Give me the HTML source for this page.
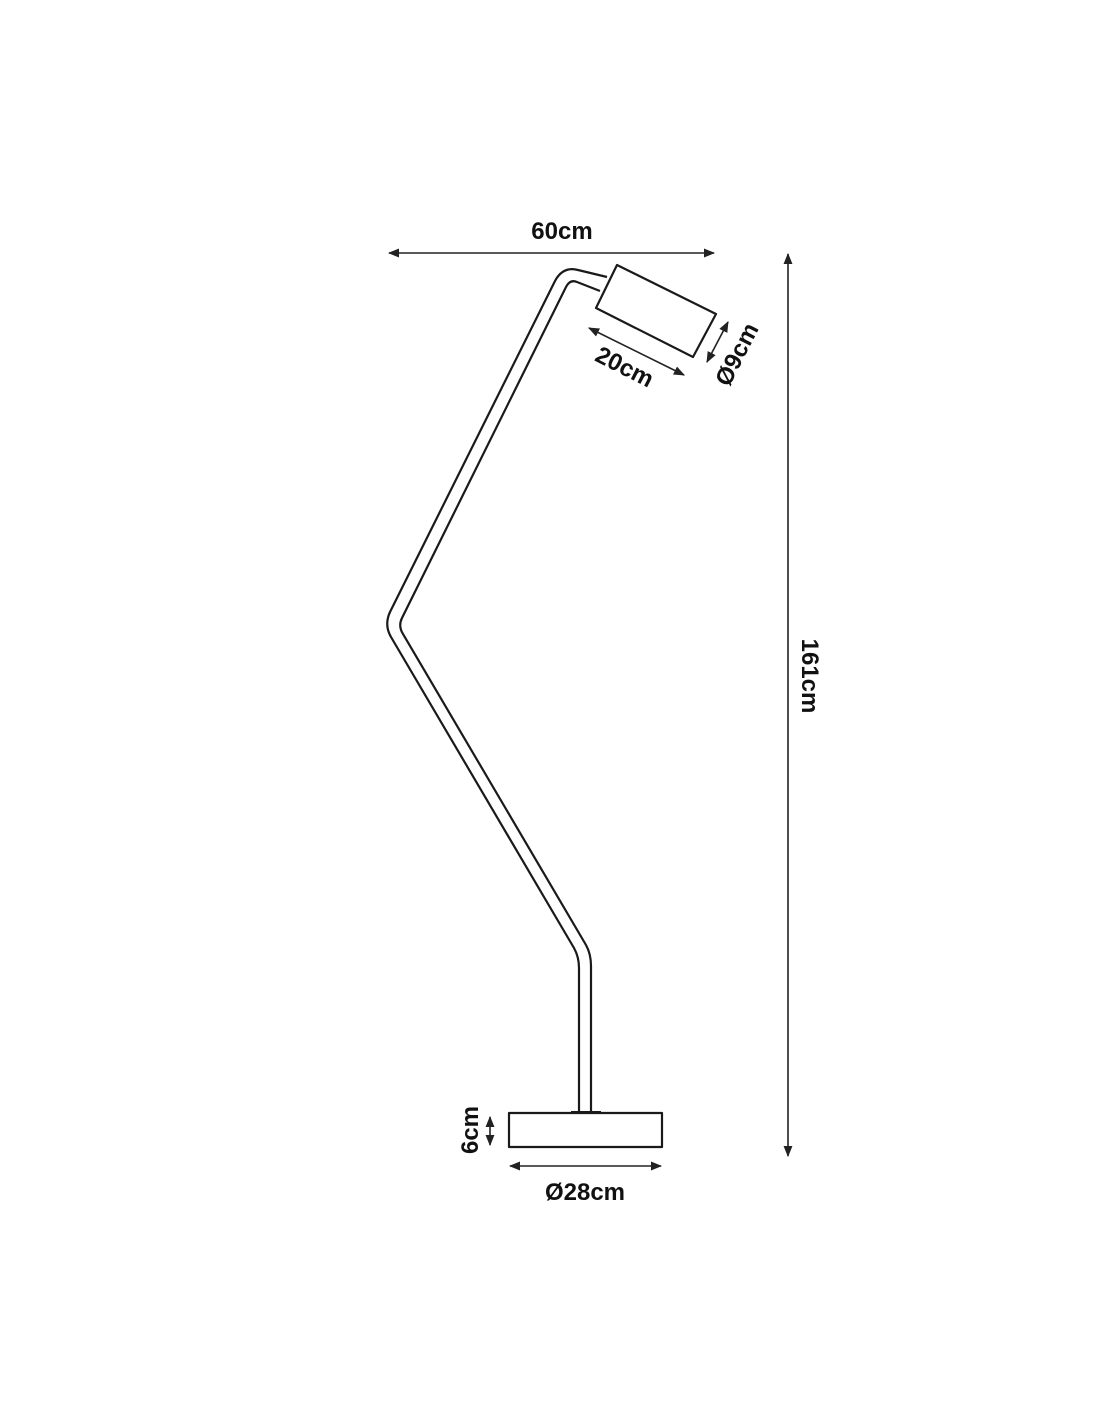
<!DOCTYPE html>
<html><head><style>html,body{margin:0;padding:0;background:#fff}svg{display:block}text{font-family:"Liberation Sans",Arial,sans-serif;font-weight:bold;fill:#111}</style></head>
<body>
<svg width="1100" height="1422" viewBox="0 0 1100 1422" xmlns="http://www.w3.org/2000/svg">
<defs>
<marker id="a" viewBox="0 0 10 10" refX="9" refY="5" markerWidth="7" markerHeight="7" orient="auto-start-reverse"><path d="M0,1 L10,5 L0,9 z" fill="#222"/></marker>
</defs>
<g fill="none" stroke="#1a1a1a" stroke-width="2.2" stroke-linejoin="round">
<path d="M607,277 L578,270 Q563,266 555,281 L390,612 Q384,625 391,637 L574,948 Q579,957 579,968 L579,1112"/>
<path d="M600,291 L577,282 Q570,279 566,287 L402,618 Q398,626 403,634 L586,945 Q591,954 591,966 L591,1112"/>
<polygon points="617,265 716,314 693,357 596,308" fill="#fff"/>
<rect x="509" y="1113" width="153" height="34" fill="#fff"/>
</g>
<rect x="571" y="1111" width="30" height="3" fill="#1a1a1a"/>
<g stroke="#222" stroke-width="1.6" fill="none">
<line x1="389" y1="253" x2="714" y2="253" marker-start="url(#a)" marker-end="url(#a)"/>
<line x1="788" y1="254" x2="788" y2="1156" marker-start="url(#a)" marker-end="url(#a)"/>
<line x1="589" y1="328" x2="684" y2="375" marker-start="url(#a)" marker-end="url(#a)"/>
<line x1="728" y1="322" x2="707" y2="362" marker-start="url(#a)" marker-end="url(#a)"/>
<line x1="490" y1="1117" x2="490" y2="1145" marker-start="url(#a)" marker-end="url(#a)"/>
<line x1="510" y1="1166" x2="661" y2="1166" marker-start="url(#a)" marker-end="url(#a)"/>
</g>
<text x="562" y="239" font-size="24" text-anchor="middle">60cm</text>
<text transform="translate(621,374) rotate(27)" font-size="24" text-anchor="middle">20cm</text>
<text transform="translate(744,358) rotate(-63)" font-size="24" text-anchor="middle">Ø9cm</text>
<text transform="translate(802,676) rotate(90)" font-size="24" text-anchor="middle">161cm</text>
<text transform="translate(478,1130) rotate(-90)" font-size="24" text-anchor="middle">6cm</text>
<text x="585" y="1200" font-size="24" text-anchor="middle">Ø28cm</text>
</svg>
</body></html>
